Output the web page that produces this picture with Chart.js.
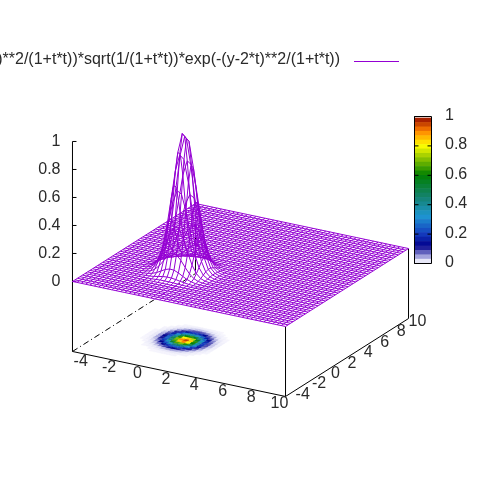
<!DOCTYPE html>
<html>
<head>
<meta charset="utf-8">
<style>
  html, body { margin: 0; padding: 0; background: #fff; }
  #wrap { width: 480px; height: 480px; }
</style>
<script src="https://cdn.jsdelivr.net/npm/chart.js@4"></script>
</head>
<body>
<div id="wrap"><canvas id="surface"></canvas></div>
<script>
// sample positions along both x and y
const gridValues = [-5, -4.69, -4.39, -4.08, -3.78, -3.47, -3.16, -2.86, -2.55, -2.24, -1.94, -1.63, -1.33, -1.02, -0.71, -0.41, -0.10, 0.20, 0.51, 0.82, 1.12, 1.43, 1.73, 2.04, 2.35, 2.65, 2.96, 3.27, 3.57, 3.88, 4.18, 4.49, 4.80, 5.10, 5.41, 5.71, 6.02, 6.33, 6.63, 6.94, 7.24, 7.55, 7.86, 8.16, 8.47, 8.78, 9.08, 9.39, 9.69, 10];
// the peak, the rest of the surface is flat at 0. first row/column sits at grid index 8
const peakStart = 8;
const peakRows = [
  [0, 0, 0, 0, 0, .001, .001, .001, .001, .001, .001, .001, 0, 0, 0, 0, 0],
  [0, 0, 0, 0, .001, .002, .004, .006, .006, .006, .005, .003, .002, .001, 0, 0, 0],
  [0, 0, .001, .002, .004, .008, .014, .020, .023, .022, .018, .012, .007, .003, .001, 0, 0],
  [0, 0, .002, .005, .012, .024, .042, .059, .069, .067, .054, .036, .020, .009, .003, .001, 0],
  [0, .001, .004, .012, .030, .061, .103, .146, .170, .165, .133, .088, .049, .022, .008, .003, .001],
  [.001, .002, .008, .024, .061, .125, .212, .299, .349, .339, .272, .181, .100, .046, .017, .005, .001],
  [.001, .004, .014, .042, .103, .212, .360, .508, .594, .575, .463, .308, .170, .078, .030, .009, .002],
  [.001, .006, .020, .059, .146, .299, .508, .717, .839, .812, .653, .435, .241, .110, .042, .013, .003],
  [.001, .006, .023, .069, .170, .349, .594, .839, .980, .949, .763, .509, .281, .129, .049, .015, .004],
  [.001, .006, .022, .067, .165, .339, .575, .812, .949, .920, .739, .493, .272, .125, .047, .015, .004],
  [.001, .005, .018, .054, .133, .272, .463, .653, .763, .739, .594, .396, .219, .100, .038, .012, .003],
  [.001, .003, .012, .036, .088, .181, .308, .435, .509, .493, .396, .264, .146, .067, .025, .008, .002],
  [0, .002, .007, .020, .049, .100, .170, .241, .281, .272, .219, .146, .081, .037, .014, .004, .001],
  [0, .001, .003, .009, .022, .046, .078, .110, .129, .125, .100, .067, .037, .017, .006, .002, .001],
  [0, 0, .001, .003, .008, .017, .030, .042, .049, .047, .038, .025, .014, .006, .002, .001, 0],
  [0, 0, 0, .001, .003, .005, .009, .013, .015, .015, .012, .008, .004, .002, .001, 0, 0],
  [0, 0, 0, 0, .001, .001, .002, .003, .004, .004, .003, .002, .001, .001, 0, 0, 0]
];
const xTicks = [-4, -2, 0, 2, 4, 6, 8, 10];
const yTicks = [-4, -2, 0, 2, 4, 6, 8, 10];
const zTicks = [0, 0.2, 0.4, 0.6, 0.8, 1];
const cbTicks = [0, 0.2, 0.4, 0.6, 0.8, 1];
const cbLevels = [0, .03, .06, .09, .12, .15, .18, .21, .24, .27, .30, .33, .36, .39, .42, .45, .48, .51, .54, .57, .60, .63, .66, .69, .72, .75, .78, .81, .84, .87, .90, .93, .96];
const paletteStops = [
  [0, [248, 247, 253]], [0.02, [225, 225, 245]], [0.05, [150, 150, 215]], [0.12, [0, 0, 140]], [0.2, [20, 60, 190]], [0.32, [30, 150, 210]],
  [0.45, [20, 130, 110]], [0.6, [0, 128, 0]], [0.72, [150, 200, 0]], [0.8, [255, 255, 0]], [0.9, [255, 130, 0]], [1, [140, 0, 0]]
];
const keyTitle = 'exp(-(x-2*t)**2/(1+t*t))*sqrt(1/(1+t*t))*exp(-(y-2*t)**2/(1+t*t))';

const PURPLE = '#9400d3';
const FONT = '16px "Liberation Sans"';
const last = gridValues.length - 1;

function zAt(i, j) {
  const row = peakRows[j - peakStart];
  if (!row) return 0;
  return row[i - peakStart] || 0;
}

// view from rot_x 60, rot_z 30, floor of the box at z = -0.5
function project(x, y, z) {
  const nx = (x - 2.5) / 7.5;
  const ny = (y - 2.5) / 7.5;
  return {
    x: nx * Math.cos(Math.PI / 6) + ny * Math.sin(Math.PI / 6),
    y: (-nx * Math.sin(Math.PI / 6) + ny * Math.cos(Math.PI / 6)) * 0.5 + (z + 0.5) * 140 / 90
  };
}
const node = (i, j) => project(gridValues[i], gridValues[j], zAt(i, j));
const floorNode = (i, j) => project(gridValues[i], gridValues[j], -0.5);

function paletteColor(v) {
  let k = 0;
  while (k < paletteStops.length - 2 && v > paletteStops[k + 1][0]) k++;
  const a = paletteStops[k], b = paletteStops[k + 1];
  const t = Math.min(1, (v - a[0]) / (b[0] - a[0]));
  const c = a[1].map((n, m) => Math.round(n + (b[1][m] - n) * t));
  return 'rgb(' + c.join(',') + ')';
}

function lineSet(data, color, width, extra) {
  return Object.assign({
    data: data, showLine: true, fill: false, borderColor: color, borderWidth: width,
    pointRadius: 0, tension: 0, clip: false
  }, extra || {});
}

const datasets = [];

// see-through mesh, one line per grid row and per grid column
for (let a = 0; a <= last; a++) {
  const along = [], across = [];
  for (let b = 0; b <= last; b++) {
    along.push(node(b, a));
    across.push(node(a, b));
  }
  datasets.push(lineSet(along, PURPLE, 1), lineSet(across, PURPLE, 1));
}

// map on the floor of the box
for (let j = peakStart; j < peakStart + peakRows.length - 1; j++) {
  for (let i = peakStart; i < peakStart + peakRows.length - 1; i++) {
    const mean = (zAt(i, j) + zAt(i + 1, j) + zAt(i + 1, j + 1) + zAt(i, j + 1)) / 4;
    if (mean < 0.002) continue;
    const color = paletteColor(mean);
    datasets.push(lineSet([floorNode(i, j), floorNode(i + 1, j), floorNode(i + 1, j + 1), floorNode(i, j + 1), floorNode(i, j)],
      color, 0.5, { fill: 'shape', backgroundColor: color }));
  }
}

// box
const corner = project;
datasets.push(lineSet([corner(-5, -5, -0.5), corner(10, -5, -0.5), corner(10, 10, -0.5)], '#000', 1));
datasets.push(lineSet([corner(-5, -5, -0.5), corner(-5, -5, 1)], '#000', 1));
datasets.push(lineSet([corner(10, -5, -0.5), corner(10, -5, 0)], '#000', 1));
datasets.push(lineSet([corner(10, 10, -0.5), corner(10, 10, 0)], '#000', 1));
datasets.push(lineSet([corner(-5, 10, -0.5), corner(-5, 10, -0.14)], '#000', 1));
datasets.push(lineSet([corner(-5, -5, -0.5), corner(-5, 10, -0.5)], '#000', 1, { borderDash: [6, 3, 1, 3] }));
zTicks.forEach(function (z) {
  const a = corner(-5, -5, z);
  datasets.push(lineSet([a, { x: a.x + 4 / 123, y: a.y }], '#000', 1));
});

// colour box
const cbLeft = 414.5, cbRight = 431.5;
const onBar = { xAxisID: 'cbx', yAxisID: 'cb' };
cbTicks.forEach(function (v) {
  if (v === 0 || v === 1) return;
  datasets.push(lineSet([{ x: cbLeft, y: v }, { x: cbLeft + 4, y: v }], '#000', 1, onBar));
  datasets.push(lineSet([{ x: cbRight - 4, y: v }, { x: cbRight, y: v }], '#000', 1, onBar));
});
datasets.push(lineSet([{ x: cbLeft, y: 0 }, { x: cbRight, y: 0 }, { x: cbRight, y: 1 }, { x: cbLeft, y: 1 }, { x: cbLeft, y: 0 }], '#000', 1, onBar));
cbLevels.forEach(function (v) {
  datasets.push(lineSet([{ x: cbLeft, y: v + 0.015 }, { x: cbRight, y: v + 0.015 }], paletteColor(v + 0.015), 5, onBar));
});

// the original terminal draws hard pixels, so snap the mesh blend to purple or white
function hardenMesh(chart) {
  const ctx = chart.ctx;
  const w = 410, h = 335;
  const img = ctx.getImageData(0, 0, w, h);
  const d = img.data;
  for (let p = 0; p < d.length; p += 4) {
    if (d[p] - d[p + 1] < 12) continue;
    const on = d[p + 1] < 205;
    d[p] = on ? 148 : 255;
    d[p + 1] = on ? 0 : 255;
    d[p + 2] = on ? 211 : 255;
  }
  ctx.putImageData(img, 0, 0);
}

// tick labels and the key
const labelsPlugin = {
  id: 'labels',
  afterDatasetsDraw(chart) {
    hardenMesh(chart);
    const ctx = chart.ctx;
    const sx = chart.scales.x, sy = chart.scales.y, bar = chart.scales.cb;
    const put = (text, x, y, align) => {
      ctx.textAlign = align;
      ctx.fillText(text, x, y);
    };
    ctx.save();
    ctx.font = FONT;
    ctx.fillStyle = '#2a2a2a';
    ctx.textBaseline = 'middle';
    xTicks.forEach(function (v) {
      const p = corner(v, -5, -0.5);
      put(String(v), sx.getPixelForValue(p.x) - 6, sy.getPixelForValue(p.y) + 7, 'center');
    });
    yTicks.forEach(function (v) {
      const p = corner(10, v, -0.5);
      put(String(v), sx.getPixelForValue(p.x) + 9, sy.getPixelForValue(p.y) + 3, 'center');
    });
    zTicks.forEach(function (v) {
      const p = corner(-5, -5, v);
      put(String(v), sx.getPixelForValue(p.x) - 12, sy.getPixelForValue(p.y), 'right');
    });
    cbTicks.forEach(function (v) {
      put(String(v), 445, bar.getPixelForValue(v) - 1, 'left');
    });
    put(keyTitle, 340, 60, 'right');
    ctx.strokeStyle = PURPLE;
    ctx.lineWidth = 1;
    ctx.beginPath();
    ctx.moveTo(354, 61.5);
    ctx.lineTo(399, 61.5);
    ctx.stroke();
    ctx.restore();
  }
};

const hidden = { display: false };
new Chart(document.getElementById('surface').getContext('2d'), {
  type: 'scatter',
  data: { datasets: datasets },
  plugins: [labelsPlugin],
  options: {
    responsive: true,
    maintainAspectRatio: false,
    animation: false,
    events: [],
    layout: { padding: 0 },
    plugins: { legend: hidden, tooltip: { enabled: false }, title: hidden },
    scales: {
      x: { type: 'linear', display: false, min: -240.5 / 123, max: 239.5 / 123 },
      y: { type: 'linear', display: false, min: -145 / 90, max: 335 / 90 },
      cbx: { type: 'linear', display: false, axis: 'x', min: 0, max: 480 },
      cb: { type: 'linear', display: false, axis: 'y', min: -216.5 / 147, max: 263.5 / 147 }
    }
  }
});
</script>
</body>
</html>
